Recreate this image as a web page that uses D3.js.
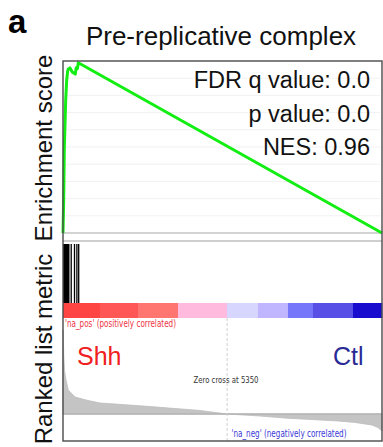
<!DOCTYPE html>
<html>
<head>
<meta charset="utf-8">
<script src="https://cdn.jsdelivr.net/npm/d3@7"></script>
<style>
  html, body { margin: 0; padding: 0; background: #fff; }
  svg { display: block; font-family: "Liberation Sans", Arial, sans-serif; }
</style>
</head>
<body>
<svg id="chart" width="383" height="447"></svg>
<script>
// Gene set: Pre-replicative complex, ranked list of 10400 genes
const totalGenes = 10400;
const zeroCross = 5350;

// Running enrichment score (rank, ES)
const esRanks  = [0, 23, 42, 88, 121, 153, 170, 228, 300, 400, 430, 470, 499, 10400];
const esValues = [0, 0.096, 0.241, 0.387, 0.445, 0.471, 0.476, 0.480, 0.468, 0.462, 0.480, 0.478, 0.495, 0];

// Positions of gene-set members in the ranked list
const hitRanks = [0, 6, 12, 18, 25, 31, 37, 44, 50, 56, 63, 69, 75, 82, 88, 94, 100, 107, 113, 120, 126, 132, 139, 145, 151, 158, 164, 245, 352, 430, 489];

// Ranked list metric (rank, metric)
const metricRanks  = [0, 5, 25, 49, 98, 173, 391, 815, 1206, 1923, 2836, 3553, 4466, 5350, 6422, 7335, 8378, 8965, 9519, 10073, 10269, 10400];
const metricValues = [1.0, 1.0, 0.70, 0.52, 0.405, 0.286, 0.202, 0.161, 0.131, 0.113, 0.089, 0.068, 0.042, 0, -0.024, -0.051, -0.071, -0.083, -0.101, -0.131, -0.161, -0.202];

// Heat bar segments (start rank, end rank, colour)
const barStarts = [0, 1200, 2445, 3749, 5346, 6357, 7335, 8150, 9454];
const barEnds   = [1200, 2445, 3749, 5346, 6357, 7335, 8150, 9454, 10400];
const barColors = ["#ff4444", "#ff5656", "#ff7670", "#ffbade", "#d6d6ff", "#bfb6ff", "#7676fb", "#5850e6", "#1a0ccf"];

const statLabels = ["FDR q value: 0.0", "p value: 0.0", "NES: 0.96"];
const esGrid = [0.05, 0.10, 0.15, 0.20, 0.25, 0.30, 0.35, 0.40, 0.45];

const svg = d3.select("#chart");

const frame = { left: 63, right: 382, top: 61, esBottom: 233, lowTop: 241, bottom: 441 };

const x = d3.scaleLinear().domain([0, totalGenes]).range([frame.left, frame.right]);
const yES = d3.scaleLinear().domain([0, 0.5]).range([frame.esBottom, frame.top]);
const yMetric = d3.scaleLinear().domain([0, 1]).range([414, 330]);

// faint gridlines in enrichment panel
svg.append("g").selectAll("line").data(esGrid).join("line")
  .attr("x1", frame.left + 2).attr("x2", frame.right - 2)
  .attr("y1", d => yES(d)).attr("y2", d => yES(d))
  .attr("stroke", "#f1f1f1").attr("stroke-width", 1);

// panel separators
svg.append("line").attr("x1", frame.left).attr("x2", frame.right)
  .attr("y1", frame.esBottom).attr("y2", frame.esBottom)
  .attr("stroke", "#a8a8a8").attr("stroke-width", 1.2);
svg.append("line").attr("x1", frame.left).attr("x2", frame.right)
  .attr("y1", frame.lowTop).attr("y2", frame.lowTop)
  .attr("stroke", "#a0a0a0").attr("stroke-width", 1.2);

// enrichment score curve
const esLine = d3.line().x((d, i) => x(esRanks[i])).y(d => yES(d));
svg.append("path").datum(esValues)
  .attr("d", esLine)
  .attr("fill", "none").attr("stroke", "#12ee12").attr("stroke-width", 3)
  .attr("stroke-linejoin", "round");

// hits
svg.append("g").selectAll("line").data(hitRanks).join("line")
  .attr("x1", d => x(d) + 0.7).attr("x2", d => x(d) + 0.7)
  .attr("y1", 244).attr("y2", 303)
  .attr("stroke", "#000").attr("stroke-width", 1.3);

// heat bar
svg.append("g").selectAll("rect").data(barColors).join("rect")
  .attr("x", (d, i) => x(barStarts[i]))
  .attr("width", (d, i) => x(barEnds[i]) - x(barStarts[i]) + 0.3)
  .attr("y", 303).attr("height", 15)
  .attr("fill", d => d);

// ranked metric area
const area = d3.area()
  .x((d, i) => x(metricRanks[i]))
  .y0(yMetric(0))
  .y1(d => yMetric(d));
svg.append("path").datum(metricValues)
  .attr("d", area)
  .attr("fill", "#c4c4c4").attr("stroke", "#bdbdbd").attr("stroke-width", 0.8);

// zero line of metric
svg.append("line").attr("x1", frame.left).attr("x2", frame.right)
  .attr("y1", yMetric(0)).attr("y2", yMetric(0))
  .attr("stroke", "#b4b4b4").attr("stroke-width", 1.5);

// zero-cross marker
svg.append("line").attr("x1", x(zeroCross)).attr("x2", x(zeroCross))
  .attr("y1", 318).attr("y2", frame.bottom)
  .attr("stroke", "#cfcfcf").attr("stroke-width", 1).attr("stroke-dasharray", "3,2");

// outer frame
svg.append("rect").attr("x", frame.left).attr("y", frame.top)
  .attr("width", frame.right - frame.left).attr("height", frame.bottom - frame.top)
  .attr("fill", "none").attr("stroke", "#4a4a4a").attr("stroke-width", 1.4);

// texts
svg.append("text").attr("x", 8).attr("y", 33)
  .attr("font-size", 33).attr("font-weight", "bold").text("a");

svg.append("text").attr("x", 221).attr("y", 45).attr("text-anchor", "middle")
  .attr("font-size", 26).attr("fill", "#111").text("Pre-replicative complex");

svg.append("g").selectAll("text").data(statLabels).join("text")
  .attr("x", 370).attr("y", (d, i) => 88 + i * 33.5)
  .attr("text-anchor", "end").attr("font-size", 23.5).attr("fill", "#111")
  .text(d => d);

svg.append("text").attr("transform", "translate(51.5,148) rotate(-90)")
  .attr("text-anchor", "middle").attr("font-size", 24).attr("fill", "#111")
  .text("Enrichment score");
svg.append("text").attr("transform", "translate(51.5,349) rotate(-90)")
  .attr("text-anchor", "middle").attr("font-size", 24).attr("fill", "#111")
  .text("Ranked list metric");

const narrow = "'Liberation Sans Narrow', 'DejaVu Sans Condensed', sans-serif";
svg.append("text").attr("x", 65).attr("y", 327)
  .attr("font-family", narrow).attr("font-size", 11).attr("fill", "#ee3344")
  .attr("textLength", 111).attr("lengthAdjust", "spacingAndGlyphs")
  .text("'na_pos' (positively correlated)");

svg.append("text").attr("x", 77).attr("y", 365)
  .attr("font-size", 25).attr("fill", "#f02020").text("Shh");
svg.append("text").attr("x", 363.5).attr("y", 365).attr("text-anchor", "end")
  .attr("font-size", 25).attr("fill", "#2a2a96").text("Ctl");

svg.append("text").attr("x", 193.5).attr("y", 383)
  .attr("font-family", narrow).attr("font-size", 9.5).attr("fill", "#333")
  .attr("textLength", 65).attr("lengthAdjust", "spacingAndGlyphs")
  .text("Zero cross at " + zeroCross);

svg.append("text").attr("x", 231.5).attr("y", 436.5)
  .attr("font-family", narrow).attr("font-size", 10.5).attr("fill", "#3a3ad6")
  .attr("textLength", 115).attr("lengthAdjust", "spacingAndGlyphs")
  .text("'na_neg' (negatively correlated)");
</script>
</body>
</html>
